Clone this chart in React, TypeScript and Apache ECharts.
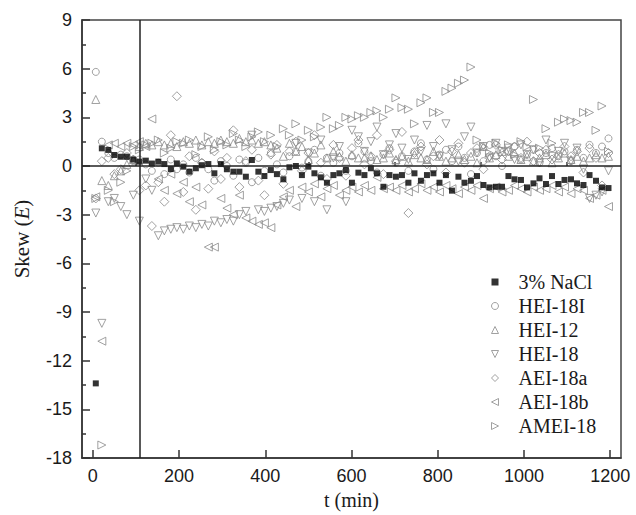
import React, { useEffect, useRef } from "react";
import * as echarts from "echarts";

const times = [7, 21, 36, 50, 65, 79, 94, 108, 123, 137, 152, 166, 181, 195, 210, 224, 239, 253, 268, 282, 297, 311, 326, 340, 355, 369, 384, 398, 413, 427, 442, 456, 471, 485, 500, 514, 529, 543, 558, 572, 587, 601, 616, 630, 645, 659, 674, 688, 703, 717, 732, 746, 761, 775, 790, 804, 819, 833, 848, 862, 877, 891, 906, 920, 935, 949, 964, 978, 993, 1007, 1022, 1036, 1051, 1065, 1080, 1094, 1109, 1123, 1138, 1152, 1167, 1181, 1196];

const nacl = [-13.4, 1.09, 0.99, 0.68, 0.57, 0.57, 0.4, 0.27, 0.33, 0.15, 0.27, 0.12, -0.19, 0.16, -0.04, -0.35, -0.14, 0.05, 0.12, -0.45, 0.12, -0.2, -0.35, -0.35, -0.66, 0.37, -0.35, -0.62, -0.25, -0.5, -0.82, -0.08, 0.0, -0.56, -0.04, -0.45, -0.7, -1.03, -0.56, -0.45, -0.25, -1.03, -0.41, -0.56, -0.14, -0.45, -1.28, -0.56, -0.66, -0.56, -1.03, -0.45, -0.91, -0.56, -0.45, -1.03, -0.56, -1.52, -0.66, -1.03, -0.91, -0.62, -1.17, -1.32, -1.28, -1.28, -0.62, -0.82, -0.86, -1.32, -1.07, -0.76, -1.11, -0.62, -1.11, -0.86, -0.82, -1.07, -1.17, -0.56, -0.91, -1.32, -1.36];

const hei18i = [5.8, 1.5, 0.8, 0.5, 0.7, 0.6, 0.3, 0.4, 0.1, -0.3, 0.2, -0.5, 0.4, -0.2, 0.1, -0.4, 0.5, 0.2, -0.2, -0.9, 0.3, 0.0, -0.6, 0.4, 0.2, -1.0, 0.5, -0.3, 0.8, 0.1, -0.4, 0.6, 0.9, -0.1, 0.3, 1.0, -0.6, 0.5, 0.2, 0.8, -0.3, 0.6, 1.4, 0.9, 0.3, -0.4, 0.7, 1.1, 0.2, 0.6, -0.3, 0.9, 1.4, 0.4, -0.2, 0.7, 1.0, 0.3, 1.2, 0.5, -0.5, 0.8, 0.3, 1.3, 0.6, 0.0, 0.9, 1.2, 0.4, 0.7, 1.0, 0.2, 0.8, 1.1, 0.6, 0.9, 0.3, 1.0, 0.5, 1.3, 0.8, 1.2, 1.7];

const hei12 = [4.1, -0.9, -1.2, -0.6, -0.3, 0.1, 0.4, 1.2, 1.4, 1.3, 1.5, 1.3, 1.4, 1.2, 1.5, 1.4, 1.6, 1.3, 1.5, 1.4, 1.6, 1.5, 1.4, 1.7, 1.5, 1.6, 1.4, 1.5, 1.3, 1.1, 0.6, 1.4, 0.9, 1.2, 0.4, 0.8, 1.3, 0.5, 0.9, 0.6, 0.3, 0.7, 0.5, 0.5, 0.6, 0.4, 0.5, 0.8, 0.4, 0.6, 0.3, 0.7, 0.5, 0.4, 0.9, 0.6, 0.3, 0.5, 0.7, 0.4, 0.6, 0.2, 1.2, 0.5, 0.7, 0.9, 0.6, 0.8, 0.4, 0.6, 0.3, 0.5, 0.7, 0.2, 0.5, 0.8, 0.4, 0.6, 0.3, 0.5, 0.7, 0.5, 0.6];

const hei18 = [-2.9, -9.7, -2.2, -2.0, -2.5, -3.0, -1.8, -3.4, -0.8, -1.5, -4.3, -4.0, -3.9, -3.8, -3.9, -3.7, -3.8, -3.6, -3.7, -3.4, -3.5, -3.3, -3.4, -3.0, -2.8, 1.9, -2.7, -2.8, -2.6, -2.5, -2.3, -2.1, 1.4, -2.0, 0.8, -2.2, 1.6, -2.7, 0.5, 1.2, -2.2, 2.2, 1.8, 0.9, 1.5, 2.4, 0.7, 1.3, 2.0, 1.1, 0.4, 1.6, 0.9, 2.5, 1.2, 0.6, 2.6, 1.0, 0.3, 1.8, 2.4, 0.8, 1.2, 0.5, 1.4, 0.9, 1.1, 0.4, 1.3, 0.7, 1.0, 0.2, 1.6, 0.6, 0.9, 1.4, 0.3, 1.1, -0.2, -2.0, -1.8, -1.6, -0.3];

const aei18a = [-2.0, 0.3, 0.5, -0.5, -0.2, 0.8, 0.4, -1.5, -1.2, -3.7, -1.0, -2.2, 1.9, 4.3, -1.6, 0.6, -2.7, 0.2, -1.4, 0.9, -0.8, 0.5, 2.2, -1.3, 0.3, 1.0, -0.9, -1.8, 0.7, 1.3, -1.1, 0.9, 1.5, -0.3, 0.8, 1.9, 0.2, -0.8, 1.3, 0.5, -0.6, 1.1, 1.6, 0.1, 0.6, 1.9, -0.5, 1.0, 0.3, 2.1, -2.9, 0.8, 1.2, 0.1, 0.6, 1.6, -0.4, 0.9, 1.4, 0.2, 0.8, 1.1, -0.2, 0.6, 1.3, 0.4, 0.9, 1.2, 0.5, 1.5, 0.3, 0.8, 1.0, 0.4, 0.7, 1.2, 0.6, 0.9, -0.4, 1.1, 0.5, -1.2, 0.8];

const aei18b = [-1.9, -10.8, 1.3, 1.4, 1.2, 1.4, 1.3, 1.5, 1.2, 2.9, -0.8, -1.5, -0.5, -1.7, -1.0, -2.2, -1.3, -2.4, -5.0, -5.0, -2.0, -2.6, -3.0, -1.8, -3.2, -3.4, -3.6, -3.5, -3.8, -2.4, -1.9, -1.5, -2.5, -1.3, -1.6, -1.1, -1.9, -1.4, -1.2, -1.8, -1.5, -1.3, -1.6, -1.2, -1.5, -0.7, -1.4, -1.3, -1.5, -1.2, -1.6, -1.4, -1.1, -1.5, -1.3, -1.6, -1.2, -1.4, -1.7, -1.3, -1.5, -1.2, -2.0, -1.4, -1.3, -1.6, -1.5, -1.2, -1.4, -1.6, -1.3, -1.5, -1.4, -1.2, -1.6, -1.3, -1.7, -1.4, -1.5, -2.0, -1.8, -1.5, -2.5];

const amei18 = [-2.0, -17.2, -1.5, -2.2, -1.0, -0.3, 1.2, 1.0, 1.3, 1.4, 1.6, 0.8, 1.1, 1.5, 1.4, 1.6, 0.7, 1.2, 1.8, 1.0, 1.5, 1.3, 2.0, 1.6, 1.2, 1.8, 2.1, 1.5, 1.9, 1.2, 2.3, 1.9, 2.6, 1.6, 2.2, 1.8, 2.4, 3.0, 2.3, 2.5, 3.0, 2.9, 3.1, 3.0, 3.3, 3.4, 3.0, 3.5, 4.2, 3.6, 3.5, 2.6, 3.9, 4.2, 3.3, 3.3, 4.6, 4.8, 5.1, 5.3, 6.1, 1.6, 1.2, 0.8, 1.4, 1.0, 1.3, 0.7, 1.5, 1.2, 4.1, 1.1, 2.3, 1.4, 2.7, 2.9, 2.8, 2.7, 3.3, 3.3, 2.2, 3.7, 0.9];

const seriesNames = ["3% NaCl", "HEI-18I", "HEI-12", "HEI-18", "AEI-18a", "AEI-18b", "AMEI-18"];
const xMajorTicks = [0, 200, 400, 600, 800, 1000, 1200];
const xMinorTicks = [100, 300, 500, 700, 900, 1100];
const markerTime = 110;

const GRAY = "#8a8a8a";
const SANS = "Liberation Sans";
const SERIF = "Liberation Serif";

const SYM_DOWN = "path://M0,0 L10,0 L5,10 Z";
const SYM_UP = "path://M5,0 L10,10 L0,10 Z";
const SYM_LEFT = "path://M10,0 L10,10 L0,5 Z";
const SYM_RIGHT = "path://M0,0 L10,5 L0,10 Z";
const SYM_DIAMOND = "path://M5,0 L10,5 L5,10 L0,5 Z";
const SYM_SQUARE = "path://M0,0 L10,0 L10,10 L0,10 Z";

function pairs(vals: number[]) {
  return vals.map((v, i) => [times[i], v]);
}

function hollow(name: string, vals: number[], symbol: string, size: number) {
  return {
    name,
    type: "scatter",
    data: pairs(vals),
    symbol,
    symbolSize: size,
    itemStyle: { color: "rgba(255,255,255,0)", borderColor: GRAY, borderWidth: 1 },
    z: 2,
  };
}

export default function App() {
  const ref = useRef<HTMLDivElement>(null);
  useEffect(() => {
    document.body.style.margin = "0";
    if (!ref.current) return;
    const chart = echarts.init(ref.current, null, { renderer: "svg" });
    const tickLine = { color: "#333", width: 1.5 };
    chart.setOption({
      animation: false,
      backgroundColor: "#fff",
      grid: {
        left: 82,
        right: 15,
        top: 20,
        bottom: 57,
        show: true,
        borderColor: "#444",
        borderWidth: 1.5,
        backgroundColor: "transparent",
      },
      legend: {
        orient: "vertical",
        left: 486,
        top: 267,
        itemWidth: 7,
        itemHeight: 7,
        itemGap: 4,
        data: seriesNames,
        itemStyle: { borderWidth: 1 },
        formatter: (name: string) => "{t|" + name + "}",
        textStyle: {
          fontFamily: SERIF,
          fontSize: 20,
          color: "#1a1a1a",
          lineHeight: 20,
          rich: { t: { fontFamily: SERIF, fontSize: 20, color: "#1a1a1a", lineHeight: 20, padding: [0, 0, 0, 15] } },
        },
      },
      xAxis: [
        {
          type: "value",
          min: -25,
          max: 1225,
          name: "t (min)",
          nameLocation: "middle",
          nameGap: 31,
          nameTextStyle: { fontFamily: SERIF, fontSize: 20, color: "#1a1a1a" },
          axisLine: { show: true, onZero: false, lineStyle: tickLine },
          axisTick: { show: true, inside: true, length: 8, customValues: xMajorTicks, lineStyle: tickLine },
          axisLabel: {
            customValues: xMajorTicks,
            formatter: (v: number) => String(v),
            fontFamily: SANS,
            fontSize: 18,
            color: "#1a1a1a",
            margin: 9,
          },
          splitLine: { show: false },
        },
        {
          type: "value",
          min: -25,
          max: 1225,
          position: "bottom",
          axisLine: { show: false },
          axisTick: { show: true, inside: true, length: 4, customValues: xMinorTicks, lineStyle: tickLine },
          axisLabel: { show: false },
          splitLine: { show: false },
        },
      ],
      yAxis: {
        type: "value",
        min: -18,
        max: 9,
        interval: 3,
        name: "Skew ({i|E})",
        nameLocation: "middle",
        nameGap: 50,
        nameTextStyle: {
          fontFamily: SERIF,
          fontSize: 21,
          color: "#1a1a1a",
          rich: { i: { fontFamily: SERIF, fontSize: 21, fontStyle: "italic", color: "#1a1a1a" } },
        },
        axisLine: { show: true, onZero: false, lineStyle: tickLine },
        axisTick: { show: true, inside: true, length: 8, lineStyle: tickLine },
        minorTick: { show: true, splitNumber: 2, length: 4, lineStyle: tickLine },
        axisLabel: { fontFamily: SANS, fontSize: 18, color: "#1a1a1a", margin: 10 },
        splitLine: { show: false },
      },
      series: [
        {
          name: seriesNames[0],
          type: "scatter",
          data: pairs(nacl),
          symbol: SYM_SQUARE,
          symbolSize: 6,
          itemStyle: { color: "#000" },
          z: 3,
          markLine: {
            silent: true,
            symbol: ["none", "none"],
            label: { show: false },
            lineStyle: { color: "#222", width: 1.5, type: "solid" },
            data: [{ yAxis: 0 }, { xAxis: markerTime }],
          },
        },
        hollow(seriesNames[1], hei18i, "circle", 7),
        hollow(seriesNames[2], hei12, SYM_UP, 8),
        hollow(seriesNames[3], hei18, SYM_DOWN, 8),
        hollow(seriesNames[4], aei18a, SYM_DIAMOND, 9),
        hollow(seriesNames[5], aei18b, SYM_LEFT, 8),
        hollow(seriesNames[6], amei18, SYM_RIGHT, 8),
      ],
    });
    return () => chart.dispose();
  }, []);
  return <div ref={ref} style={{ width: 636, height: 515 }} />;
}
